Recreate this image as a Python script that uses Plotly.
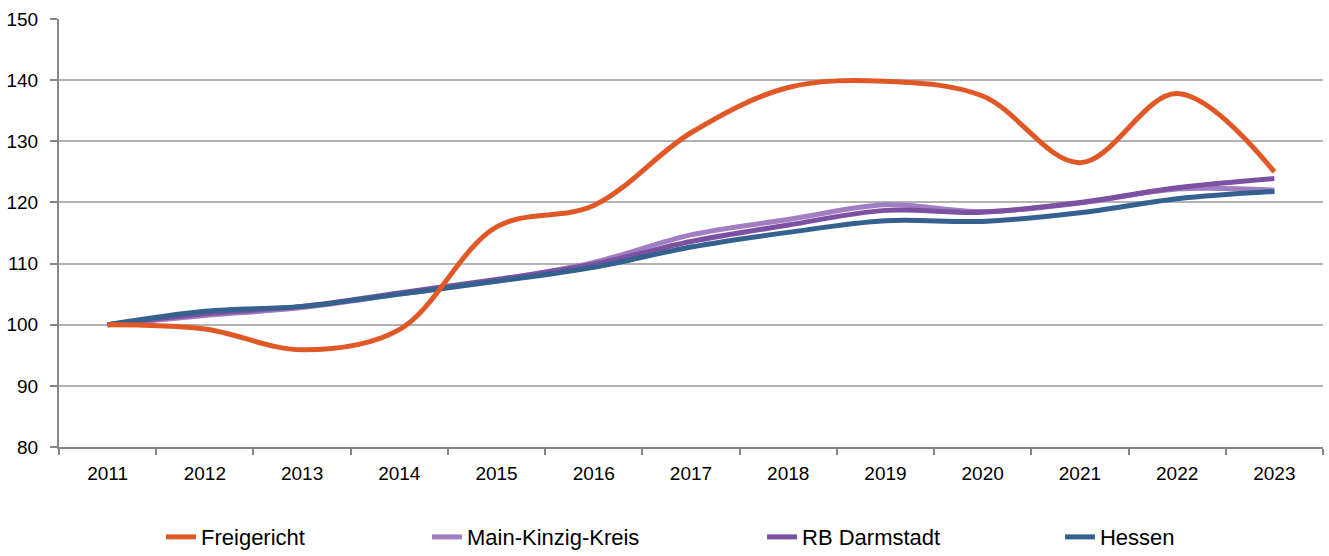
import plotly.graph_objects as go

years = [str(y) for y in range(2011, 2024)]
freigericht = [100, 99.3, 95.9, 99.2, 116.0, 119.5, 131.4, 138.8, 139.8, 137.4, 126.5, 137.8, 125.0]
main_kinzig = [100, 101.5, 102.8, 105.0, 107.3, 110.2, 114.7, 117.2, 119.6, 118.5, 119.9, 122.2, 122.0]
rb_darmstadt = [100, 101.8, 103.0, 105.2, 107.4, 109.9, 113.6, 116.3, 118.7, 118.4, 120.0, 122.4, 123.9]
hessen = [100, 102.2, 103.0, 105.0, 107.1, 109.4, 112.7, 115.1, 117.0, 116.9, 118.3, 120.6, 121.8]

names = ["Freigericht", "Main-Kinzig-Kreis", "RB Darmstadt", "Hessen"]
colors = ["#E05826", "#A07EC1", "#7C51A1", "#35618F"]
series = [freigericht, main_kinzig, rb_darmstadt, hessen]
legend_ids = ["legend", "legend2", "legend3", "legend4"]
legend_x = [0.0807, 0.2911, 0.5562, 0.7919]

FONT = "Liberation Sans, Arial, sans-serif"

fig = go.Figure()
draw_order = [1, 2, 3, 0]
for i in draw_order:
    fig.add_trace(go.Scatter(
        x=years, y=series[i], name=names[i], mode="lines",
        line=dict(color=colors[i], width=5, shape="spline", smoothing=1),
        legend=legend_ids[i], showlegend=True,
    ))

layout_legends = {}
for lid, lx in zip(legend_ids, legend_x):
    layout_legends[lid] = dict(
        x=lx, xanchor="left", y=-0.2105, yanchor="middle",
        orientation="h", bgcolor="rgba(0,0,0,0)", borderwidth=0,
        font=dict(family=FONT, size=22, color="#000000"),
    )

fig.update_layout(
    width=1329, height=556,
    margin=dict(l=59, r=6, t=19, b=109, autoexpand=False),
    paper_bgcolor="white", plot_bgcolor="white",
    font=dict(family=FONT, color="#000000"),
    xaxis=dict(
        type="category", tickson="boundaries", ticks="outside", ticklen=6,
        tickcolor="#868686", tickwidth=2, showline=True, linecolor="#868686",
        linewidth=2, showgrid=False, tickfont=dict(family=FONT, size=19),
        range=[-0.5, 12.5], zeroline=False, automargin=False,
        ticklabelstandoff=8,
    ),
    yaxis=dict(
        range=[80, 150], dtick=10, ticks="outside", ticklen=7,
        tickcolor="#868686", tickwidth=2, showline=True, linecolor="#868686",
        linewidth=2, showgrid=True, gridcolor="#B3B3B3", gridwidth=1.5,
        tickfont=dict(family=FONT, size=19), zeroline=False,
        ticklabelstandoff=8, automargin=False,
    ),
    **layout_legends,
)

fig.write_html(
    "out.html",
    config={"displayModeBar": False},
    post_script="document.body.style.margin='0';document.body.style.overflow='hidden';",
)
